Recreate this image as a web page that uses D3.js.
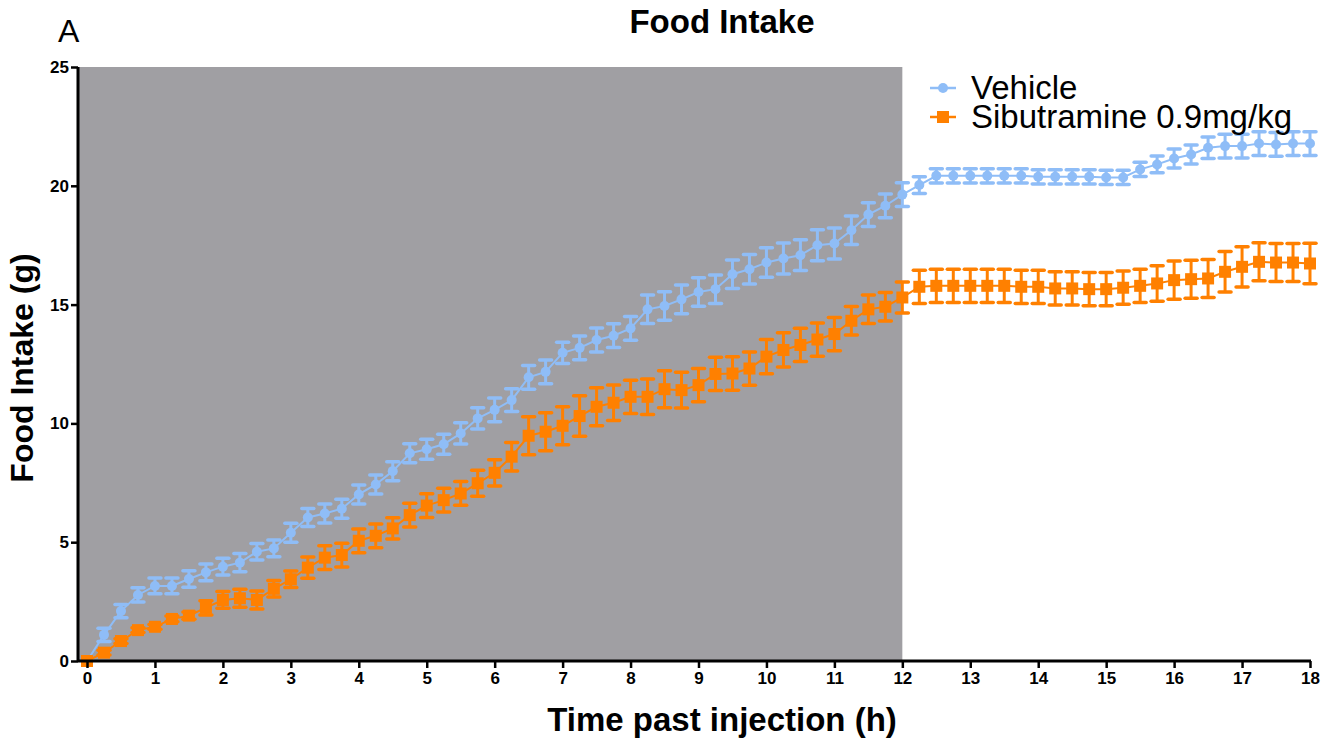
<!DOCTYPE html>
<html>
<head>
<meta charset="utf-8">
<script src="https://cdn.jsdelivr.net/npm/d3@7"></script>
<style>
  body { margin: 0; background: #fff; }
  svg text { font-family: "Liberation Sans", Arial, sans-serif; }
</style>
</head>
<body>
<svg id="chart" width="1333" height="742"></svg>
<script>
// time points every 15 min, 0..18 h
let times = d3.range(0, 18.001, 0.25);
let xTicks = d3.range(0, 19, 1);
let yTicks = [0, 5, 10, 15, 20, 25];

let vehicleMean = [0, 1.1, 2.1, 2.78, 3.16, 3.16, 3.45, 3.73, 3.97, 4.14, 4.6, 4.74, 5.4, 6.04, 6.21, 6.41, 7.01, 7.43, 7.99, 8.74, 8.91, 9.12, 9.58, 10.21, 10.57,
  10.98, 11.94, 12.17, 12.97, 13.18, 13.51, 13.69, 14.0, 14.8, 14.94, 15.22, 15.53, 15.65, 16.28, 16.49, 16.77, 16.94, 17.08, 17.5, 17.57, 18.13, 18.79, 19.16, 19.63,
  20.03, 20.42, 20.42, 20.42, 20.42, 20.42, 20.42, 20.38, 20.38, 20.38, 20.38, 20.35, 20.35, 20.69, 20.9, 21.15, 21.32, 21.6, 21.67, 21.67, 21.78, 21.74, 21.78, 21.78];
let vehicleSem = [0, 0.28, 0.28, 0.3, 0.33, 0.33, 0.35, 0.35, 0.35, 0.38, 0.35, 0.35, 0.4, 0.38, 0.4, 0.4, 0.4, 0.4, 0.4, 0.4, 0.42, 0.42, 0.45, 0.45, 0.5,
  0.48, 0.5, 0.5, 0.45, 0.5, 0.5, 0.5, 0.5, 0.6, 0.6, 0.6, 0.6, 0.6, 0.6, 0.62, 0.62, 0.65, 0.65, 0.65, 0.65, 0.6, 0.5, 0.5, 0.5,
  0.35, 0.3, 0.3, 0.3, 0.3, 0.3, 0.3, 0.3, 0.3, 0.3, 0.3, 0.3, 0.3, 0.3, 0.35, 0.4, 0.4, 0.45, 0.5, 0.5, 0.5, 0.5, 0.5, 0.5];

let sibuMean = [0, 0.35, 0.84, 1.3, 1.44, 1.77, 1.91, 2.24, 2.57, 2.64, 2.57, 3.04, 3.44, 3.93, 4.35, 4.46, 5.06, 5.27, 5.58, 6.14, 6.54, 6.77, 7.05, 7.48, 7.92,
  8.6, 9.48, 9.65, 9.9, 10.31, 10.7, 10.87, 11.12, 11.12, 11.44, 11.4, 11.61, 12.08, 12.1, 12.31, 12.81, 13.09, 13.3, 13.53, 13.76, 14.32, 14.8, 14.91, 15.3,
  15.75, 15.79, 15.79, 15.79, 15.79, 15.79, 15.75, 15.75, 15.68, 15.68, 15.65, 15.65, 15.71, 15.79, 15.89, 16.03, 16.07, 16.1, 16.38, 16.59, 16.8, 16.77, 16.77, 16.73];
let sibuSem = [0, 0.1, 0.1, 0.1, 0.1, 0.12, 0.15, 0.3, 0.35, 0.38, 0.38, 0.35, 0.35, 0.45, 0.5, 0.5, 0.5, 0.5, 0.45, 0.5, 0.5, 0.5, 0.5, 0.55, 0.55,
  0.6, 0.8, 0.8, 0.8, 0.85, 0.8, 0.75, 0.7, 0.75, 0.78, 0.75, 0.7, 0.7, 0.7, 0.7, 0.72, 0.72, 0.7, 0.7, 0.7, 0.6, 0.6, 0.6, 0.65,
  0.7, 0.7, 0.7, 0.7, 0.7, 0.7, 0.7, 0.7, 0.7, 0.7, 0.7, 0.7, 0.7, 0.7, 0.75, 0.8, 0.8, 0.8, 0.85, 0.85, 0.8, 0.8, 0.8, 0.85];

let darkPhaseEnd = 12;
let blue = '#8fbdf7';
let orange = '#ff8000';

let svg = d3.select('#chart');
let axisX = 78;

let x = d3.scaleLinear().domain([0, 18]).range([87, 1310]);
let y = d3.scaleLinear().domain([0, 25]).range([661, 67]);

// dark phase shading
svg.append('rect')
    .attr('x', axisX + 1)
    .attr('y', y(25))
    .attr('width', x(darkPhaseEnd) - axisX - 1)
    .attr('height', y(0) - y(25))
    .attr('fill', '#a09fa3');

function drawSeries(means, sems, color, shape) {
    let data = times.map(function(t, i) { return { t: t, m: means[i], s: sems[i] }; });
    let g = svg.append('g');
    g.append('path')
        .datum(data)
        .attr('fill', 'none')
        .attr('stroke', color)
        .attr('stroke-width', 2)
        .attr('d', d3.line().x(function(d) { return x(d.t); }).y(function(d) { return y(d.m); }));
    let eb = g.selectAll('.eb').data(data.filter(function(d) { return d.s > 0; })).enter().append('g');
    eb.append('line')
        .attr('x1', function(d) { return x(d.t); })
        .attr('x2', function(d) { return x(d.t); })
        .attr('y1', function(d) { return y(d.m - d.s); })
        .attr('y2', function(d) { return y(d.m + d.s); })
        .attr('stroke', color).attr('stroke-width', 3);
    [-1, 1].forEach(function(sign) {
        eb.append('line')
            .attr('x1', function(d) { return x(d.t) - 6; })
            .attr('x2', function(d) { return x(d.t) + 6; })
            .attr('y1', function(d) { return y(d.m + sign * d.s); })
            .attr('y2', function(d) { return y(d.m + sign * d.s); })
            .attr('stroke', color).attr('stroke-width', 3.5).attr('stroke-linecap', 'round');
    });
    if (shape === 'circle') {
        g.selectAll('.pt').data(data).enter().append('circle')
            .attr('cx', function(d) { return x(d.t); })
            .attr('cy', function(d) { return y(d.m); })
            .attr('r', 5)
            .attr('fill', color);
    } else {
        g.selectAll('.pt').data(data).enter().append('rect')
            .attr('x', function(d) { return x(d.t) - 6; })
            .attr('y', function(d) { return y(d.m) - 6; })
            .attr('width', 12).attr('height', 12)
            .attr('fill', color);
    }
}

drawSeries(vehicleMean, vehicleSem, blue, 'circle');
drawSeries(sibuMean, sibuSem, orange, 'square');

// axes
let xAxis = svg.append('g')
    .attr('transform', 'translate(0,' + y(0) + ')')
    .call(d3.axisBottom(x).tickValues(xTicks).tickSize(7).tickSizeOuter(0).tickPadding(4));
let yAxis = svg.append('g')
    .attr('transform', 'translate(' + axisX + ',0)')
    .call(d3.axisLeft(y).tickValues(yTicks).tickSize(7).tickSizeOuter(0).tickPadding(2));
[xAxis, yAxis].forEach(function(a) {
    a.select('.domain').remove();
    a.selectAll('line').attr('stroke', '#000').attr('stroke-width', 2.5);
    a.selectAll('text')
        .attr('fill', '#000')
        .style('font-family', '"Liberation Sans Narrow", "Arial Narrow", "Liberation Sans", sans-serif')
        .style('font-weight', 'bold')
        .style('font-size', '17px');
});
svg.append('line')
    .attr('x1', axisX).attr('x2', axisX)
    .attr('y1', y(25)).attr('y2', y(0) + 1)
    .attr('stroke', '#000').attr('stroke-width', 3);
svg.append('line')
    .attr('x1', axisX).attr('x2', x(18) + 1)
    .attr('y1', y(0)).attr('y2', y(0))
    .attr('stroke', '#000').attr('stroke-width', 3);

// titles
svg.append('text').attr('x', 722).attr('y', 33).attr('text-anchor', 'middle')
    .style('font-weight', 'bold').style('font-size', '33px').text('Food Intake');
svg.append('text').attr('x', 58).attr('y', 42)
    .style('font-size', '32px').text('A');
svg.append('text').attr('x', 722).attr('y', 731).attr('text-anchor', 'middle')
    .style('font-weight', 'bold').style('font-size', '33px').text('Time past injection (h)');
svg.append('text').attr('transform', 'translate(33,368) rotate(-90)').attr('text-anchor', 'middle')
    .style('font-weight', 'bold').style('font-size', '32px').text('Food Intake (g)');

// legend
let legend = [
    { label: 'Vehicle', color: blue, shape: 'circle', y: 88 },
    { label: 'Sibutramine 0.9mg/kg', color: orange, shape: 'square', y: 117 }
];
legend.forEach(function(l) {
    svg.append('line').attr('x1', 930).attr('x2', 956).attr('y1', l.y).attr('y2', l.y)
        .attr('stroke', l.color).attr('stroke-width', 2.5);
    if (l.shape === 'circle') {
        svg.append('circle').attr('cx', 943).attr('cy', l.y).attr('r', 5).attr('fill', l.color);
    } else {
        svg.append('rect').attr('x', 937).attr('y', l.y - 6).attr('width', 12).attr('height', 12).attr('fill', l.color);
    }
    svg.append('text').attr('x', 971).attr('y', l.y + 11)
        .style('font-size', '33px').text(l.label);
});
</script>
</body>
</html>
